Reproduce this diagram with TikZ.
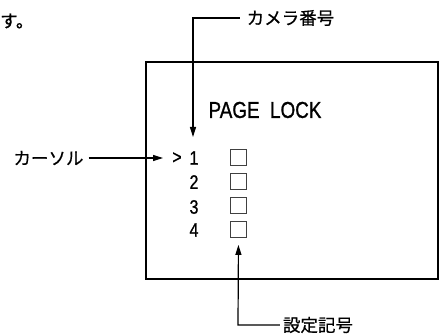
\documentclass[tikz,border=0pt]{standalone}
\usepackage{fontspec}
\newfontfamily\cjk[FakeBold=0.6]{Noto Sans CJK JP}
\newfontfamily\narrow[FakeStretch=0.82,FakeBold=1]{Liberation Sans}
\usetikzlibrary{arrows.meta}
\tikzset{
  jp/.style={font=\cjk\fontsize{17.5}{17.5}\selectfont, inner sep=0pt},
  scr/.style={font=\narrow\fontsize{19.5}{19.5}\selectfont, inner sep=0pt},
  titletext/.style={font=\narrow\fontsize{23}{23}\selectfont, inner sep=0pt},
  callout/.style={line width=1.2pt},
  arr/.style={-{Triangle[length=10pt,width=6pt]}},
  frame/.style={draw, line width=2.6pt, minimum width=292pt, minimum height=217pt, inner sep=0pt},
  setbox/.style={draw, line width=0.8pt, draw=black!75, minimum size=16pt, inner sep=0pt},
}
\begin{document}
\begin{tikzpicture}[x=1pt,y=-1pt]
\useasboundingbox (0,0) rectangle (445,334);
\node[jp, anchor=west] (su) at (0,21) {す。};
\node[frame] (screen) at (292,170.5) {};
\node[titletext] (title) at (265,110) {PAGE~~LOCK};
% rows
\node[scr] (cur) at (177,158) {>};
\node[scr] (n1) at (194,158) {1};
\node[scr] (n2) at (194,182) {2};
\node[scr] (n3) at (194,207) {3};
\node[scr] (n4) at (194,230) {4};
\node[setbox] (s1) at (238.5,157) {};
\node[setbox] (s2) at (238.5,181) {};
\node[setbox] (s3) at (238.5,205.5) {};
\node[setbox] (s4) at (238.5,229.5) {};
% labels
\node[jp] (cam) at (290.5,18) {カメラ番号};
\node[jp] (curlab) at (48.5,158) {カーソル};
\node[jp] (setlab) at (318,325) {設定記号};
\coordinate (cambend) at (193,18);
\coordinate (camtip) at (193,137);
\coordinate (curtip) at (163,158);
\coordinate (setbend) at (238,325);
\draw[callout, arr, shorten <=7pt] (cam.west) -- (cambend) -- (camtip);
\draw[callout, arr, shorten <=5pt] (curlab.east) -- (curtip);
\draw[callout, arr, shorten <=3pt, shorten >=7pt] (setlab.west) -- (setbend) -- (s4.south);
\end{tikzpicture}
\end{document}
